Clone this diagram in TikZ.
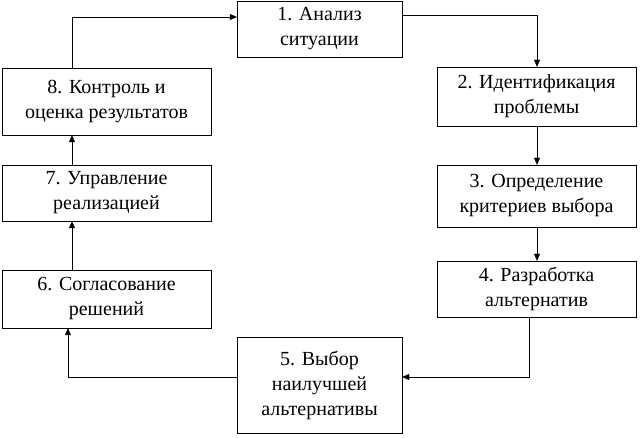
\documentclass[tikz,border=0pt]{standalone}
\usepackage{fontspec}
\setmainfont{Liberation Serif}
\newfontfamily\tnr{Liberation Serif}
\usetikzlibrary{arrows.meta}
\begin{document}
\begin{tikzpicture}[x=1pt,y=-1pt,
  bx/.style={draw,align=center,font=\tnr\fontsize{20}{25}\selectfont,inner sep=0pt},
  ar/.style={-{Triangle[length=7pt,width=6pt]}}]
\useasboundingbox (0,0) rectangle (640,438);
\node[bx,minimum width=165pt,minimum height=56pt] (n1) at (319.5,29) {1. Анализ\\ситуации};
\node[bx,minimum width=199pt,minimum height=59pt] (n2) at (536.5,96.5) {2. Идентификация\\проблемы};
\node[bx,minimum width=199pt,minimum height=62pt] (n3) at (536.5,196) {3. Определение\\критериев выбора};
\node[bx,minimum width=199pt,minimum height=56pt] (n4) at (536.5,289) {4. Разработка\\альтернатив};
\node[bx,minimum width=165pt,minimum height=96pt] (n5) at (319.5,385) {5. Выбор\\наилучшей\\альтернативы};
\node[bx,minimum width=209pt,minimum height=58pt] (n6) at (106.5,299) {6. Согласование\\решений};
\node[bx,minimum width=209pt,minimum height=56pt] (n7) at (106.5,193) {7. Управление\\реализацией};
\node[bx,minimum width=209pt,minimum height=67pt] (n8) at (106.5,101.5) {8. Контроль и\\оценка результатов};
\coordinate (c1) at (537,15);
\coordinate (c4) at (529,377);
\coordinate (c5) at (68,377);
\coordinate (c8) at (72,17);
\draw[ar] (n1.east |- c1) -- (c1) -- (n2.north -| c1);
\draw[ar] (n2.south -| c1) -- (n3.north -| c1);
\draw[ar] (n3.south -| c1) -- (n4.north -| c1);
\draw[ar] (n4.south -| c4) -- (c4) -- (n5.east |- c4);
\draw[ar] (n5.west |- c5) -- (c5) -- (n6.south -| c5);
\draw[ar] (n6.north -| c8) -- (n7.south -| c8);
\draw[ar] (n7.north -| c8) -- (n8.south -| c8);
\draw[ar] (n8.north -| c8) -- (c8) -- (n1.west |- c8);
\end{tikzpicture}
\end{document}
